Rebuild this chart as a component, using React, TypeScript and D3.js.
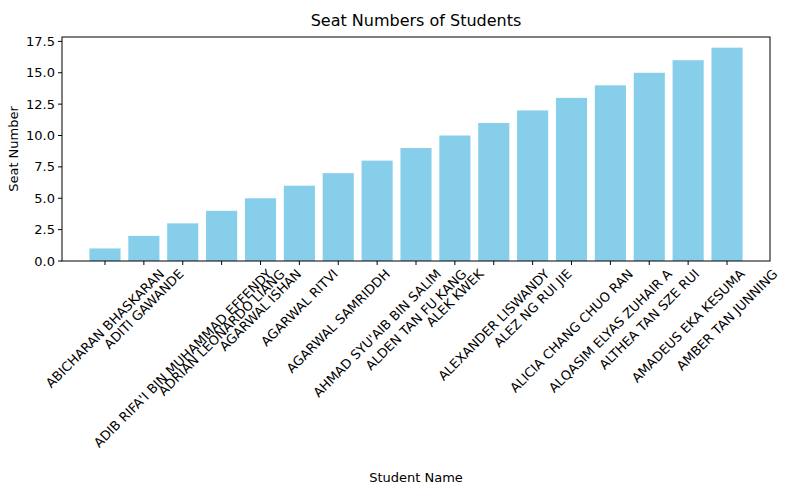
import React, { useEffect, useRef } from "react";
import * as d3 from "d3";

const students = [
  "ABICHARAN BHASKARAN",
  "ADITI GAWANDE",
  "ADIB RIFA'I BIN MUHAMMAD EFFENDY",
  "ADRIAN LEONARDO LIANG",
  "AGARWAL ISHAN",
  "AGARWAL RITVI",
  "AGARWAL SAMRIDDH",
  "AHMAD SYU'AIB BIN SALIM",
  "ALDEN TAN FU KANG",
  "ALEK KWEK",
  "ALEXANDER LISWANDY",
  "ALEZ NG RUI JIE",
  "ALICIA CHANG CHUO RAN",
  "ALQASIM ELYAS ZUHAIR A",
  "ALTHEA TAN SZE RUI",
  "AMADEUS EKA KESUMA",
  "AMBER TAN JUNNING",
];
const seats = [1, 2, 3, 4, 5, 6, 7, 8, 9, 10, 11, 12, 13, 14, 15, 16, 17];
const yTicks = [0, 2.5, 5, 7.5, 10, 12.5, 15, 17.5];

export default function App() {
  const svgRef = useRef<SVGSVGElement>(null);

  useEffect(() => {
    const svg = d3.select(svgRef.current!);
    svg.selectAll("*").remove();
    const font = "DejaVu Sans, sans-serif";
    const left = 62, right = 770, top = 37, bottom = 261;
    const n = seats.length;
    const x = d3.scaleLinear().domain([-0.4 - 0.042 * (n - 0.2), n - 0.6 + 0.042 * (n - 0.2)]).range([left, right]);
    const y = d3.scaleLinear().domain([0, d3.max(seats)! * 1.05]).range([bottom, top]);

    svg.append("rect").attr("width", 800).attr("height", 500).attr("fill", "#fff");

    svg.selectAll("rect.bar")
      .data(seats)
      .enter()
      .append("rect")
      .attr("class", "bar")
      .attr("x", (_, i) => x(i - 0.4))
      .attr("width", x(0.8) - x(0))
      .attr("y", (d) => y(d))
      .attr("height", (d) => y(0) - y(d))
      .attr("fill", "#87CEEB");

    svg.append("rect")
      .attr("x", left).attr("y", top)
      .attr("width", right - left).attr("height", bottom - top)
      .attr("fill", "none").attr("stroke", "#000").attr("stroke-width", 1);

    yTicks.forEach((t) => {
      svg.append("line").attr("x1", left - 4).attr("x2", left).attr("y1", y(t)).attr("y2", y(t)).attr("stroke", "#000");
      svg.append("text").attr("x", left - 7).attr("y", y(t)).attr("dy", "0.35em")
        .attr("text-anchor", "end").style("font-family", font).style("font-size", "13px").text(t.toFixed(1));
    });

    students.forEach((s, i) => {
      const cx = x(i);
      svg.append("line").attr("x1", cx).attr("x2", cx).attr("y1", bottom).attr("y2", bottom + 4).attr("stroke", "#000");
      const t = svg.append("text")
        .attr("text-anchor", "middle").attr("dominant-baseline", "central")
        .style("font-family", font).style("font-size", "13px").text(s);
      const len = (t.node() as SVGTextElement).getComputedTextLength();
      const h = (len + 13) * Math.SQRT1_2;
      t.attr("transform", `translate(${cx},${bottom + 6 + h / 2}) rotate(-45)`);
    });

    svg.append("text").attr("x", (left + right) / 2).attr("y", 26).attr("text-anchor", "middle")
      .style("font-family", font).style("font-size", "16px").text("Seat Numbers of Students");
    svg.append("text").attr("x", (left + right) / 2).attr("y", 482).attr("text-anchor", "middle")
      .style("font-family", font).style("font-size", "13px").text("Student Name");
    svg.append("text").attr("transform", `translate(13,${(top + bottom) / 2}) rotate(-90)`)
      .attr("text-anchor", "middle").attr("dy", "0.35em")
      .style("font-family", font).style("font-size", "13px").text("Seat Number");
  }, []);

  return (
    <div style={{ position: "absolute", left: 0, top: 0 }}>
      <svg ref={svgRef} width={800} height={500} style={{ display: "block" }} />
    </div>
  );
}
